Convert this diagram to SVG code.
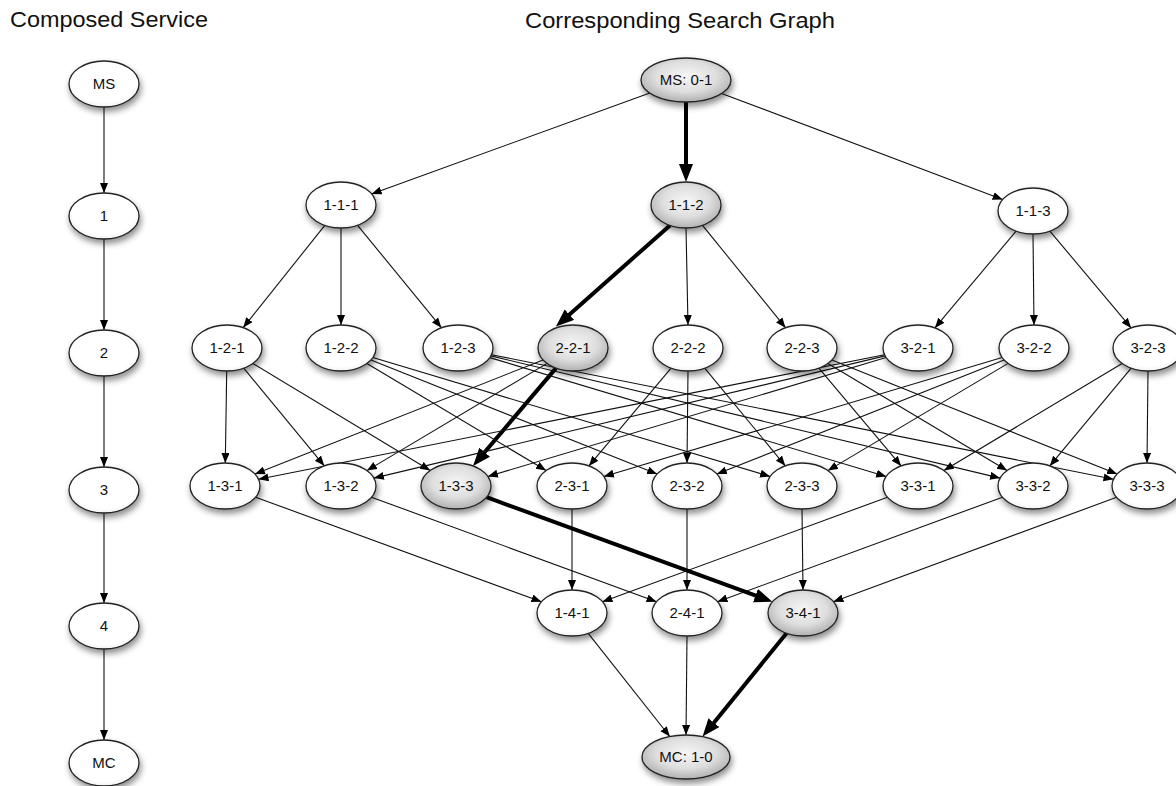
<svg xmlns="http://www.w3.org/2000/svg" width="1176" height="786" viewBox="0 0 1176 786">
<style>
.t{font-family:"Liberation Sans",Arial,Helvetica,sans-serif;fill:#111}
.title{font-size:22px}
.lbl{font-size:15px;text-anchor:middle}
.n{fill:url(#gw);stroke:#222;stroke-width:1.3;filter:url(#sh)}
.g{fill:url(#gg);stroke:#222;stroke-width:1.3;filter:url(#sh)}
.e{fill:none;stroke:#111;stroke-width:1.1;marker-end:url(#a)}
.k{fill:none;stroke:#000;stroke-width:4;marker-end:url(#ak)}
</style>
<defs>
<radialGradient id="gw" cx="50%" cy="45%" r="60%">
<stop offset="0%" stop-color="#ffffff"/>
<stop offset="75%" stop-color="#ffffff"/>
<stop offset="100%" stop-color="#ececec"/>
</radialGradient>
<radialGradient id="gg" cx="50%" cy="42%" r="62%">
<stop offset="0%" stop-color="#f6f6f6"/>
<stop offset="55%" stop-color="#dedede"/>
<stop offset="100%" stop-color="#a9a9a9"/>
</radialGradient>
<filter id="sh" x="-30%" y="-30%" width="160%" height="180%">
<feDropShadow dx="1.5" dy="4" stdDeviation="3" flood-color="#000" flood-opacity="0.45"/>
</filter>
<marker id="a" markerUnits="userSpaceOnUse" markerWidth="11" markerHeight="9" refX="10" refY="4" orient="auto">
<path d="M0,0 L10,4 L0,8 z" fill="#000"/>
</marker>
<marker id="ak" markerUnits="userSpaceOnUse" markerWidth="19" markerHeight="15" refX="10" refY="7" orient="auto">
<path d="M0,0 L18,7 L0,14 z" fill="#000"/>
</marker>
</defs>
<rect width="1176" height="786" fill="#fff"/>
<text class="t title" x="10" y="27" textLength="198" lengthAdjust="spacingAndGlyphs">Composed Service</text>
<text class="t title" x="525" y="28" textLength="310" lengthAdjust="spacingAndGlyphs">Corresponding Search Graph</text>
<g id="connectors">
<path class="e" d="M104,107 L104,193"/>
<path class="e" d="M104,239 L104,330"/>
<path class="e" d="M104,376 L104,467"/>
<path class="e" d="M104,513 L104,603"/>
<path class="e" d="M104,649 L104,740"/>
<path class="e" d="M649.8,93.1 L371.6,193.9"/>
<path class="k" d="M686,102 L686,174"/>
<path class="e" d="M721.6,93.4 L1002.6,199.5"/>
<path class="e" d="M324.8,225.4 L243.2,327.6"/>
<path class="e" d="M341,228 L341,325"/>
<path class="e" d="M357.6,225.3 L441.4,327.7"/>
<path class="k" d="M669.9,225.4 L561.9,321.3"/>
<path class="e" d="M686,228 L688,325"/>
<path class="e" d="M702.5,225.3 L785.5,327.7"/>
<path class="e" d="M1016.1,231.1 L934.9,327.9"/>
<path class="e" d="M1033,234 L1034,325"/>
<path class="e" d="M1049.9,231.1 L1131.1,327.9"/>
<path class="e" d="M226.7,371 L225.3,463"/>
<path class="e" d="M243.7,368.2 L324.3,465.8"/>
<path class="e" d="M252.8,363.5 L430.2,470.5"/>
<path class="e" d="M543,359.9 L255,474.1"/>
<path class="e" d="M547.1,363.4 L366.9,470.6"/>
<path class="k" d="M556,368.1 L478.2,459.8"/>
<path class="e" d="M884.5,354.7 L258.5,479.3"/>
<path class="e" d="M885.1,355.9 L373.9,478.1"/>
<path class="e" d="M886.1,357.5 L487.9,476.5"/>
<path class="e" d="M366.9,363.5 L546.1,470.5"/>
<path class="e" d="M370.9,359.9 L657.1,474.1"/>
<path class="e" d="M372.9,357.5 L770.1,476.5"/>
<path class="e" d="M671.1,368.1 L588.9,465.9"/>
<path class="e" d="M688,371 L687,463"/>
<path class="e" d="M704.7,368.2 L785.3,465.8"/>
<path class="e" d="M1002.1,357.5 L603.9,476.5"/>
<path class="e" d="M1004.1,359.9 L716.9,474.1"/>
<path class="e" d="M1008.1,363.4 L827.9,470.6"/>
<path class="e" d="M489.8,357.6 L886.2,476.5"/>
<path class="e" d="M490.9,355.9 L1000.1,478.1"/>
<path class="e" d="M491.5,354.7 L1113.5,479.3"/>
<path class="e" d="M818.9,368.1 L901.1,465.9"/>
<path class="e" d="M827.9,363.5 L1007.1,470.5"/>
<path class="e" d="M831.9,359.9 L1117.1,474.1"/>
<path class="e" d="M1122.1,363.5 L943.9,470.5"/>
<path class="e" d="M1131.2,368.1 L1049.8,465.9"/>
<path class="e" d="M1148,371 L1147,463"/>
<path class="e" d="M255.6,497.2 L541.4,601.8"/>
<path class="e" d="M572,509 L572,590"/>
<path class="e" d="M887.5,497.2 L602.5,601.8"/>
<path class="e" d="M371.5,497.2 L656.5,601.8"/>
<path class="e" d="M687,509 L687,590"/>
<path class="e" d="M1002.5,497.2 L717.5,601.8"/>
<path class="k" d="M486.6,497.2 L764.9,599"/>
<path class="e" d="M802,509 L803,590"/>
<path class="e" d="M1116.6,497.3 L833.4,601.7"/>
<path class="e" d="M588.2,633.4 L669.8,736.5"/>
<path class="e" d="M687,636 L686,735"/>
<path class="k" d="M786.5,633.3 L707.6,730.4"/>
</g>
<g id="c-ms"><ellipse class="n" cx="104" cy="84" rx="35" ry="23"/><text class="t lbl" x="104" y="89">MS</text></g>
<g id="c-1"><ellipse class="n" cx="104" cy="216" rx="35" ry="23"/><text class="t lbl" x="104" y="221">1</text></g>
<g id="c-2"><ellipse class="n" cx="104" cy="353" rx="35" ry="23"/><text class="t lbl" x="104" y="358">2</text></g>
<g id="c-3"><ellipse class="n" cx="104" cy="490" rx="35" ry="23"/><text class="t lbl" x="104" y="495">3</text></g>
<g id="c-4"><ellipse class="n" cx="104" cy="626" rx="35" ry="23"/><text class="t lbl" x="104" y="631">4</text></g>
<g id="c-mc"><ellipse class="n" cx="104" cy="763" rx="35" ry="23"/><text class="t lbl" x="104" y="768">MC</text></g>
<g id="ms-0-1"><ellipse class="g" cx="686" cy="80" rx="45" ry="22"/><text class="t lbl" x="686" y="85">MS: 0-1</text></g>
<g id="n-1-1-1"><ellipse class="n" cx="341" cy="205" rx="35" ry="23"/><text class="t lbl" x="341" y="210">1-1-1</text></g>
<g id="n-1-1-2"><ellipse class="g" cx="686" cy="205" rx="35" ry="23"/><text class="t lbl" x="686" y="210">1-1-2</text></g>
<g id="n-1-1-3"><ellipse class="n" cx="1033" cy="211" rx="35" ry="23"/><text class="t lbl" x="1033" y="216">1-1-3</text></g>
<g id="n-1-2-1"><ellipse class="n" cx="227" cy="348" rx="35" ry="23"/><text class="t lbl" x="227" y="353">1-2-1</text></g>
<g id="n-1-2-2"><ellipse class="n" cx="341" cy="348" rx="35" ry="23"/><text class="t lbl" x="341" y="353">1-2-2</text></g>
<g id="n-1-2-3"><ellipse class="n" cx="458" cy="348" rx="35" ry="23"/><text class="t lbl" x="458" y="353">1-2-3</text></g>
<g id="n-2-2-1"><ellipse class="g" cx="573" cy="348" rx="35" ry="23"/><text class="t lbl" x="573" y="353">2-2-1</text></g>
<g id="n-2-2-2"><ellipse class="n" cx="688" cy="348" rx="35" ry="23"/><text class="t lbl" x="688" y="353">2-2-2</text></g>
<g id="n-2-2-3"><ellipse class="n" cx="802" cy="348" rx="35" ry="23"/><text class="t lbl" x="802" y="353">2-2-3</text></g>
<g id="n-3-2-1"><ellipse class="n" cx="918" cy="348" rx="35" ry="23"/><text class="t lbl" x="918" y="353">3-2-1</text></g>
<g id="n-3-2-2"><ellipse class="n" cx="1034" cy="348" rx="35" ry="23"/><text class="t lbl" x="1034" y="353">3-2-2</text></g>
<g id="n-3-2-3"><ellipse class="n" cx="1148" cy="348" rx="35" ry="23"/><text class="t lbl" x="1148" y="353">3-2-3</text></g>
<g id="n-1-3-1"><ellipse class="n" cx="225" cy="486" rx="35" ry="23"/><text class="t lbl" x="225" y="491">1-3-1</text></g>
<g id="n-1-3-2"><ellipse class="n" cx="341" cy="486" rx="35" ry="23"/><text class="t lbl" x="341" y="491">1-3-2</text></g>
<g id="n-1-3-3"><ellipse class="g" cx="456" cy="486" rx="35" ry="23"/><text class="t lbl" x="456" y="491">1-3-3</text></g>
<g id="n-2-3-1"><ellipse class="n" cx="572" cy="486" rx="35" ry="23"/><text class="t lbl" x="572" y="491">2-3-1</text></g>
<g id="n-2-3-2"><ellipse class="n" cx="687" cy="486" rx="35" ry="23"/><text class="t lbl" x="687" y="491">2-3-2</text></g>
<g id="n-2-3-3"><ellipse class="n" cx="802" cy="486" rx="35" ry="23"/><text class="t lbl" x="802" y="491">2-3-3</text></g>
<g id="n-3-3-1"><ellipse class="n" cx="918" cy="486" rx="35" ry="23"/><text class="t lbl" x="918" y="491">3-3-1</text></g>
<g id="n-3-3-2"><ellipse class="n" cx="1033" cy="486" rx="35" ry="23"/><text class="t lbl" x="1033" y="491">3-3-2</text></g>
<g id="n-3-3-3"><ellipse class="n" cx="1147" cy="486" rx="35" ry="23"/><text class="t lbl" x="1147" y="491">3-3-3</text></g>
<g id="n-1-4-1"><ellipse class="n" cx="572" cy="613" rx="35" ry="23"/><text class="t lbl" x="572" y="618">1-4-1</text></g>
<g id="n-2-4-1"><ellipse class="n" cx="687" cy="613" rx="35" ry="23"/><text class="t lbl" x="687" y="618">2-4-1</text></g>
<g id="n-3-4-1"><ellipse class="g" cx="803" cy="613" rx="35" ry="23"/><text class="t lbl" x="803" y="618">3-4-1</text></g>
<g id="mc-1-0"><ellipse class="g" cx="686" cy="757" rx="44" ry="22"/><text class="t lbl" x="686" y="762">MC: 1-0</text></g>
</svg>
